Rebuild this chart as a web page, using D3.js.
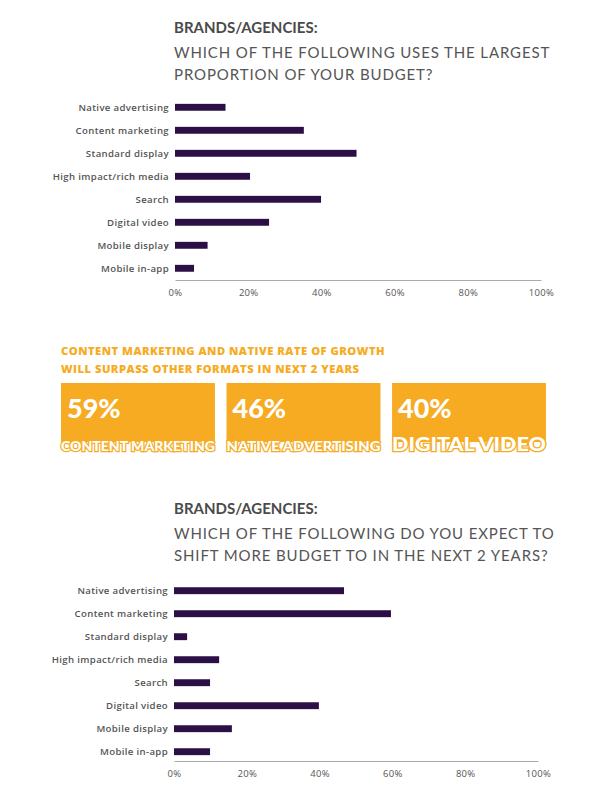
<!DOCTYPE html>
<html><head><meta charset="utf-8">
<script src="https://cdn.jsdelivr.net/npm/d3@7"></script>
<style>body{margin:0;background:#fff}svg{display:block}</style>
</head><body><svg id="c" width="596" height="802"></svg>
<script>
const categories = ["Native advertising","Content marketing","Standard display","High impact/rich media","Search","Digital video","Mobile display","Mobile in-app"];
const largestValues = [13.8,35.2,49.6,20.5,39.9,25.7,8.9,5.2];
const shiftValues = [46.7,59.6,3.6,12.4,9.9,39.8,15.9,9.9];
const tickValues = [0,20,40,60,80,100];
const statValues = ["59%","46%","40%"];
const statLabels = ["CONTENT MARKETING","NATIVE ADVERTISING","DIGITAL VIDEO"];

const svg = d3.select("#c");
const font = "Lato, 'Open Sans', sans-serif";
const font2 = "'Open Sans', sans-serif";
const purple = "#2b0f45", orange = "#f6ab22", grey = "#555";

function chart(top, titleLines, values, x0, x1, yStart, axisY){
  svg.append("text").attr("x",174).attr("y",top).attr("font-family",font).attr("font-weight",700)
    .attr("font-size",15).attr("fill","#4a4a4a").text(titleLines[0]);
  titleLines.slice(1).forEach((t,i)=>svg.append("text").attr("x",174).attr("y",top+25+i*22)
    .attr("font-family",font).attr("font-size",15).attr("letter-spacing",0.88).attr("fill",grey).text(t));
  const x = d3.scaleLinear().domain([0,100]).range([x0,x1]);
  const y = d3.scaleBand().domain(categories).range([yStart-11.5, yStart-11.5+23*categories.length]).paddingInner(0.7).paddingOuter(0.35);
  const g = svg.append("g");
  g.selectAll("rect").data(values).join("rect").attr("x",x(0)).attr("y",(d,i)=>y(categories[i]))
    .attr("width",d=>x(d)-x(0)).attr("height",y.bandwidth()).attr("fill",purple);
  g.selectAll("text.cat").data(categories).join("text").attr("class","cat").attr("x",x(0)-6)
    .attr("y",d=>y(d)+y.bandwidth()/2+3.5).attr("text-anchor","end").attr("font-family",font2)
    .attr("font-size",9.6).attr("letter-spacing",0.35).attr("font-weight",600).attr("fill",grey).text(d=>d);
  const ax = svg.append("g").attr("transform",`translate(0,${axisY})`)
    .call(d3.axisBottom(x).tickValues(tickValues).tickSize(0).tickPadding(9).tickFormat(d=>d+"%"));
  ax.select(".domain").attr("stroke","#aaa");
  ax.selectAll("text").attr("font-family",font2).attr("font-size",9.5).attr("letter-spacing",0.3).attr("fill",grey);
}

chart(33,["BRANDS/AGENCIES:","WHICH OF THE FOLLOWING USES THE LARGEST","PROPORTION OF YOUR BUDGET?"],largestValues,175,541,107.3,280);
chart(514,["BRANDS/AGENCIES:","WHICH OF THE FOLLOWING DO YOU EXPECT TO","SHIFT MORE BUDGET TO IN THE NEXT 2 YEARS?"],shiftValues,174,538,590.7,761);

// middle callout
["CONTENT MARKETING AND NATIVE RATE OF GROWTH","WILL SURPASS OTHER FORMATS IN NEXT 2 YEARS"].forEach((t,i)=>
  svg.append("text").attr("x",61).attr("y",355+i*17.5).attr("font-family",font2).attr("font-weight",800)
    .attr("font-size",11.2).attr("letter-spacing",0.5).attr("fill",orange).text(t));
const boxX = d3.scaleBand().domain(statLabels).range([61,546]).paddingInner(0.07);
const bg = svg.append("g");
statLabels.forEach((lab,i)=>{
  const bx = boxX(lab), bw = boxX.bandwidth();
  bg.append("rect").attr("x",bx).attr("y",383).attr("width",bw).attr("height",59).attr("fill",orange);
  bg.append("text").attr("x",bx+6).attr("y",418).attr("font-family",font).attr("font-weight",900)
    .attr("font-size",27).attr("fill","#fff").text(statValues[i]);
  bg.append("text").attr("x",bx).attr("y",451).attr("font-family",font).attr("font-weight",900)
    .attr("font-size",i==2?19:14).attr("textLength",bw).attr("lengthAdjust","spacingAndGlyphs")
    .attr("fill","#fff").attr("stroke",orange).attr("stroke-width",2.5).attr("paint-order","stroke")
    .text(lab);
});
</script></body></html>
